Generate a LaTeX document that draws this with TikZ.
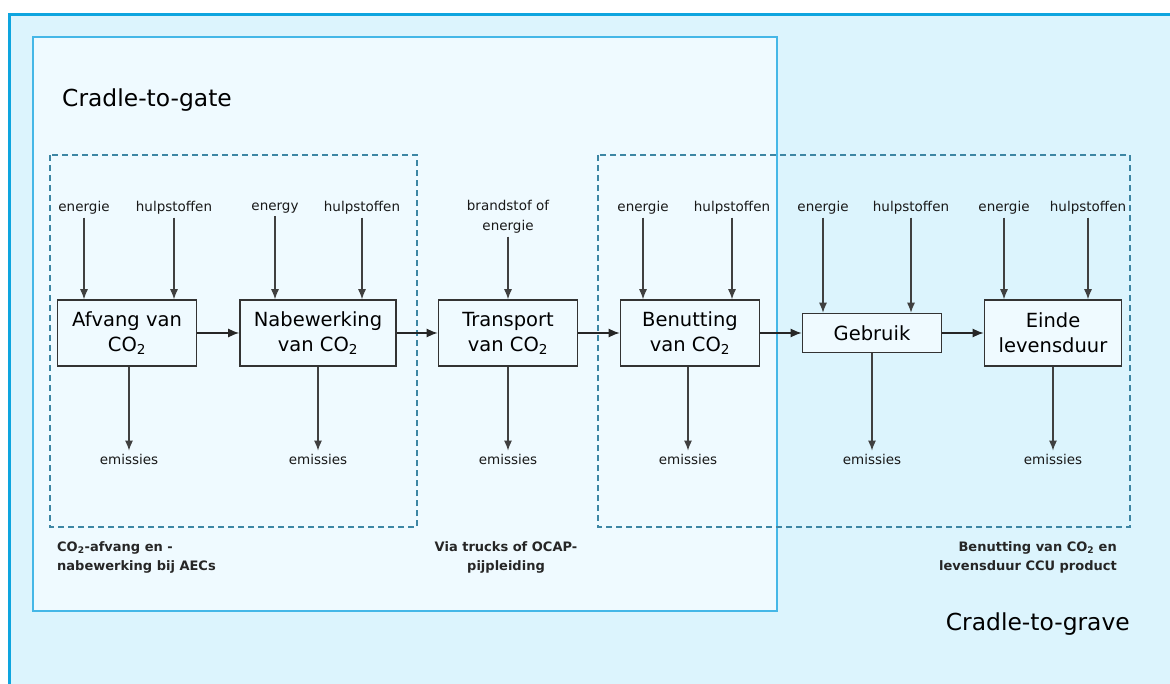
\documentclass[tikz,border=0pt]{standalone}
\usepackage{fontspec}
\setmainfont{DejaVu Sans}
\usepackage{tikz}
\usetikzlibrary{arrows.meta}
\definecolor{grave}{HTML}{DCF4FD}
\definecolor{graveline}{HTML}{0EA5DF}
\definecolor{gate}{HTML}{EFFAFF}
\definecolor{gateline}{HTML}{45B7E7}
\definecolor{dashline}{HTML}{3D86A4}
\tikzset{
    process/.style={rectangle,draw=black!80,fill=gate,line width=1.6pt,minimum width=139pt,minimum height=66pt,align=center,inner sep=2pt,font=\fontsize{19.5}{25}\selectfont},
    stream/.style={font=\fontsize{13.5}{20}\selectfont,inner sep=3pt,text=black!90,align=center},
    note/.style={font=\bfseries\fontsize{13}{19.5}\selectfont,inner sep=0pt,text=black!85},
    title/.style={font=\fontsize{23.4}{28}\selectfont,inner sep=0pt},
    flow/.style={-{Latex[length=11pt,width=9pt]},line width=1.5pt,draw=black!85},
    input/.style={-{Latex[length=10pt,width=8pt]},line width=1.1pt,draw=black!75},
    group/.style={draw=dashline,line width=1.6pt,dash pattern=on 6pt off 4pt}
    }

\begin{document}
\begin{tikzpicture}[x=1pt,y=-1pt]
        \useasboundingbox (0,0) rectangle (1170,684);
        \clip (0,0) rectangle (1170,684);

        % system boundaries
        \draw[fill=grave, draw=graveline, line width=3pt] (9,15) rectangle (1200,710);
        \draw[fill=gate, draw=gateline, line width=1.5pt] (33,37) rectangle (777,611);
        \draw[group] (50,155) rectangle (417,527);
        \draw[group] (598,155) rectangle (1130,527);
        \node[title, anchor=west] (gate) at (62,100) {Cradle-to-gate};
        \node[title, anchor=east] (grave) at (1130,624) {Cradle-to-grave};

        % processes
        \node[process] (afvang) at (127,333) {Afvang van\\CO\textsubscript{2}};
        \node[process, minimum width=156pt] (nabewerking) at (318,333) {Nabewerking\\van CO\textsubscript{2}};
        \node[process] (transport) at (508,333) {Transport\\van CO\textsubscript{2}};
        \node[process] (benutting) at (690,333) {Benutting\\van CO\textsubscript{2}};
        \node[process, minimum height=39pt] (gebruik) at (872,333) {Gebruik};
        \node[process, minimum width=137pt] (einde) at (1053,333) {Einde\\levensduur};

        % inputs
        \node[stream] (afvang-en) at (84,208) {energie};
        \node[stream] (afvang-hs) at (174,208) {hulpstoffen};
        \node[stream] (nabewerking-en) at (275,208) {energy};
        \node[stream] (nabewerking-hs) at (362,208) {hulpstoffen};
        \node[stream] (transport-en) at (508,217) {brandstof of\\energie};
        \node[stream] (benutting-en) at (643,208) {energie};
        \node[stream] (benutting-hs) at (732,208) {hulpstoffen};
        \node[stream] (gebruik-en) at (823,208) {energie};
        \node[stream] (gebruik-hs) at (911,208) {hulpstoffen};
        \node[stream] (einde-en) at (1004,208) {energie};
        \node[stream] (einde-hs) at (1088,208) {hulpstoffen};

        % outputs
        \node[stream] (afvang-em) at (129,459) {emissies};
        \node[stream] (nabewerking-em) at (318,459) {emissies};
        \node[stream] (transport-em) at (508,459) {emissies};
        \node[stream] (benutting-em) at (688,459) {emissies};
        \node[stream] (gebruik-em) at (872,459) {emissies};
        \node[stream] (einde-em) at (1053,459) {emissies};

        % notes
        \node[note, anchor=north west, align=left] (note-gate) at (57,541) {CO\textsubscript{2}-afvang en -\\nabewerking bij AECs};
        \node[note, anchor=north, align=center] (note-transport) at (506,541) {Via trucks of OCAP-\\pijpleiding};
        \node[note, anchor=north east, align=right] (note-grave) at (1117,541) {Benutting van CO\textsubscript{2} en\\levensduur CCU product};

        % chain
        \draw[flow] (afvang) -- (nabewerking);
        \draw[flow] (nabewerking) -- (transport);
        \draw[flow] (transport) -- (benutting);
        \draw[flow] (benutting) -- (gebruik);
        \draw[flow] (gebruik) -- (einde);

        % in- and outgoing streams
        \foreach \p in {afvang,nabewerking,benutting,gebruik,einde}{
            \draw[input] (\p-en) -- (\p-en |- \p.north);
            \draw[input] (\p-hs) -- (\p-hs |- \p.north);
        }
        \draw[input] (transport-en) -- (transport);
        \foreach \p in {afvang,nabewerking,transport,benutting,gebruik,einde}
            \draw[input] (\p-em |- \p.south) -- (\p-em);
    \end{tikzpicture}
\end{document}
